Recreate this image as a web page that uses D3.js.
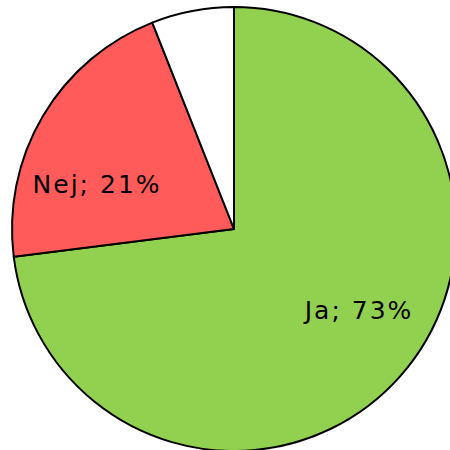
<!DOCTYPE html>
<html>
<head>
<meta charset="utf-8">
<script src="https://cdn.jsdelivr.net/npm/d3@7"></script>
<style>
  html, body { margin: 0; padding: 0; background: #fff; }
  svg { display: block; }
</style>
</head>
<body>
<svg id="chart"></svg>
<script>
// data
let categories = ["Ja", "Nej", "Vet ej"];
let values = [73, 21, 6];
let showLabel = [true, true, false];
let colors = ["#92d050", "#ff5b5b", "#ffffff"];

var width = 450,
    height = 450,
    cx = 234,
    cy = 229,
    radius = 222;

var svg = d3.select("#chart")
    .attr("width", width)
    .attr("height", height);

var g = svg.append("g")
    .attr("transform", "translate(" + cx + "," + cy + ")");

var pie = d3.pie().sort(null).value(function(d) { return d; });
var arcs = pie(values);

var arc = d3.arc().innerRadius(0).outerRadius(radius);

g.selectAll("path.slice")
  .data(arcs)
  .enter().append("path")
  .attr("class", "slice")
  .attr("d", arc)
  .attr("fill", function(d, i) { return colors[i]; })
  .attr("stroke", "#000")
  .attr("stroke-width", 2)
  .attr("stroke-linejoin", "round");

// labels sit a bit before the mid angle, like the original
var labelR = 146;
var shift = 0.18;
g.selectAll("text.lbl")
  .data(arcs.filter(function(d, i) { return showLabel[i]; }))
  .enter().append("text")
  .attr("class", "lbl")
  .attr("x", function(d) { var a = (d.startAngle + d.endAngle) / 2 - shift; return Math.sin(a) * labelR; })
  .attr("y", function(d) { var a = (d.startAngle + d.endAngle) / 2 - shift; return -Math.cos(a) * labelR + 6; })
  .attr("dy", "0.35em")
  .attr("text-anchor", "middle")
  .style("font-family", "'DejaVu Sans', Verdana, sans-serif")
  .style("font-size", "25px")
  .style("letter-spacing", "2px")
  .attr("fill", "#000")
  .text(function(d) { return categories[d.index] + "; " + values[d.index] + "%"; });
</script>
</body>
</html>
